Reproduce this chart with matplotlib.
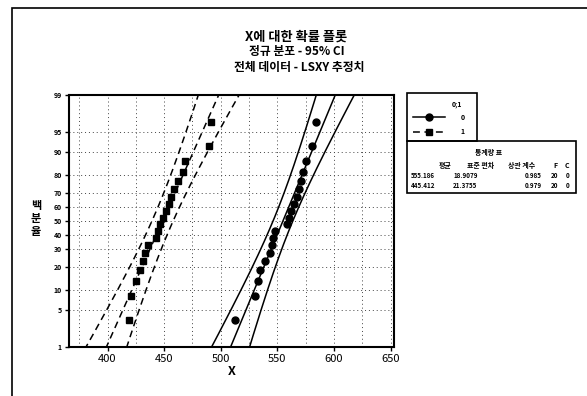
import numpy as np
import matplotlib
matplotlib.use('Agg')
import matplotlib.pyplot as plt
from matplotlib.patches import Rectangle
from matplotlib.lines import Line2D
from statistics import NormalDist

plt.rcParams['font.family'] = ['Noto Sans CJK KR', 'DejaVu Sans']
plt.rcParams['font.weight'] = 'bold'

# 읽어낸 데이터 (그룹 0: 원, 그룹 1: 사각형)
x_group0 = [512.6, 530.3, 533.0, 534.8, 539.2, 543.6, 544.9, 546.3, 547.6, 558.6,
            560.4, 562.2, 564.4, 567.5, 569.3, 570.6, 572.8, 575.0, 580.8, 584.3]
x_group1 = [418.6, 420.8, 424.8, 428.3, 431.0, 432.7, 435.8, 442.5, 444.3, 446.0,
            448.7, 451.8, 454.0, 455.8, 458.9, 462.0, 466.8, 468.1, 489.8, 491.2]

pct_ticks = [1, 5, 10, 20, 30, 40, 50, 60, 70, 80, 90, 95, 99]
x_ticks = [400, 450, 500, 550, 600, 650]

table_cols = ['평균', '표준 편차', '상관 계수', 'F', 'C']
table_rows = [['555.186', '18.9079', '0.985', '20', '0'],
              ['445.412', '21.3755', '0.979', '20', '0']]

nd = NormalDist()


def ranks_z(n):
    # 중앙 순위 (Benard)
    return np.array([nd.inv_cdf((i - 0.3) / (n + 0.4)) for i in range(1, n + 1)])


def px(x, y):
    return x / 587, 1 - y / 396


fig = plt.figure(figsize=(5.87, 3.96), dpi=100)
ax = fig.add_axes([69 / 587, 1 - 347 / 396, 325 / 587, 252 / 396])

zz = np.linspace(nd.inv_cdf(0.003), nd.inv_cdf(0.997), 200)
for xs, marker, ls in [(x_group0, 'o', '-'), (x_group1, 's', (0, (4.5, 3)))]:
    xs = np.sort(np.array(xs))
    z = ranks_z(len(xs))
    sigma, mu = np.polyfit(z, xs, 1)
    n = len(xs)
    se = sigma * np.sqrt(1 / n + zz ** 2 / (2 * n))
    fit = mu + zz * sigma
    ax.plot(fit, zz, color='black', lw=1.1, ls=ls)
    ax.plot(fit - 1.96 * se, zz, color='black', lw=1.1, ls=ls)
    ax.plot(fit + 1.96 * se, zz, color='black', lw=1.1, ls=ls)
    ax.plot(xs, z, marker, color='black', ms=5, ls='none')

ax.set_xlim(366, 653)
ax.set_ylim(nd.inv_cdf(0.01), nd.inv_cdf(0.99))
ax.set_yticks([nd.inv_cdf(p / 100) for p in pct_ticks])
ax.set_yticklabels([str(p) for p in pct_ticks], fontsize=5)
ax.set_xticks(x_ticks)
ax.set_xticklabels([str(v) for v in x_ticks], fontsize=8, fontweight='normal')
ax.set_xticks(np.arange(375, 651, 25), minor=True)
ax.tick_params(axis='x', which='minor', length=0)
ax.tick_params(axis='both', which='major', length=3, width=1, pad=2)
ax.grid(True, which='both', axis='x', ls=(0, (1, 3)), color='#444444', lw=0.7)
ax.grid(True, which='major', axis='y', ls=(0, (1, 3)), color='#444444', lw=0.7)
ax.set_axisbelow(True)
for s in ax.spines.values():
    s.set_linewidth(1.5)
ax.set_xlabel('X', fontsize=9, fontweight='bold', labelpad=1)

fig.text(*px(36, 219), '백\n분\n율', fontsize=8, fontweight='bold',
         ha='center', va='center', linespacing=1.0)

fig.text(0.505, 1 - 37 / 396, 'X에 대한 확률 플롯', fontsize=9.5, fontweight='bold', ha='center', va='center')
fig.text(0.505, 1 - 52 / 396, '정규 분포 - 95% CI', fontsize=8.5, fontweight='bold', ha='center', va='center')
fig.text(0.51, 1 - 67 / 396, '전체 데이터 - LSXY 추정치', fontsize=8.5, fontweight='bold', ha='center', va='center')

# 범례 상자
fig.add_artist(Rectangle(px(407, 141), 70 / 587, 48 / 396, transform=fig.transFigure,
                         fill=False, ec='black', lw=1.2))
fig.text(*px(457, 104), '0;1', fontsize=5, ha='center', va='center')
fig.add_artist(Line2D([413 / 587, 429 / 587, 445 / 587], [1 - 117 / 396] * 3, transform=fig.transFigure,
                      color='black', lw=1.1, marker='o', ms=5, markevery=[1]))
fig.add_artist(Line2D([413 / 587, 429 / 587, 445 / 587], [1 - 132 / 396] * 3, transform=fig.transFigure,
                      color='black', lw=1.1, ls=(0, (4.5, 3)), marker='s', ms=5, markevery=[1]))
fig.text(*px(463, 117), '0', fontsize=5, ha='center', va='center')
fig.text(*px(463, 132), '1', fontsize=5, ha='center', va='center')

# 통계량 표
fig.add_artist(Rectangle(px(407, 193), 169 / 587, 52 / 396, transform=fig.transFigure,
                         fill=False, ec='black', lw=1.2))
fig.text(*px(489, 153), '통계량 표', fontsize=5, ha='center', va='center')
col_x = [445, 481, 522, 555, 567]
for cx, c in zip(col_x, table_cols):
    fig.text(*px(cx, 165), c, fontsize=5, ha='center', va='center')
val_x = [411, 453, 525, 551, 566]
for ry, row in zip([175, 186], table_rows):
    for vx, v in zip(val_x, row):
        fig.text(*px(vx, ry), v, fontsize=4.5, ha='left', va='center')

# 바깥 테두리
fig.add_artist(Rectangle(px(12, 400), 600 / 587, 392 / 396, transform=fig.transFigure,
                         fill=False, ec='black', lw=1.2))

fig.savefig('out.png', dpi=100)
